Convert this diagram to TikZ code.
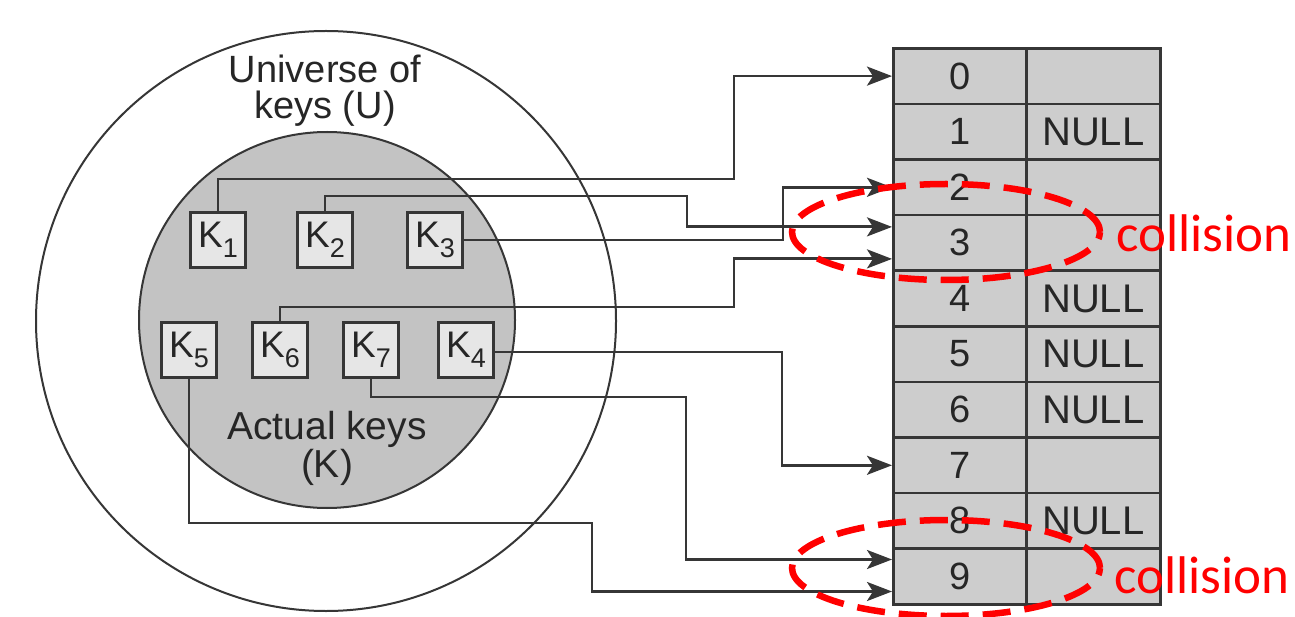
\documentclass[tikz,border=0pt]{standalone}
\usepackage{fontspec}
\setmainfont{Liberation Sans}
\newfontfamily\notefont{Carlito}
\usetikzlibrary{arrows.meta,shapes.geometric,calc}

\definecolor{ink}{HTML}{262626}
\definecolor{wire}{HTML}{363636}
\definecolor{zone}{HTML}{C3C3C3}
\definecolor{cell}{HTML}{CDCDCD}
\definecolor{keyfill}{HTML}{E6E6E6}
\definecolor{alert}{HTML}{FF0000}

% key label: K with a lowered index
\newcommand\keylabel[1]{K\raisebox{-10pt}{\fontsize{27}{27}\selectfont #1}}

\begin{document}
\begin{tikzpicture}[x=1pt,y=-1pt,
  ring/.style={circle, draw=wire, line width=2pt, inner sep=0pt},
  keybox/.style={rectangle, draw=wire, fill=keyfill, line width=2.4pt,
    minimum size=55pt, inner sep=0pt, text=ink,
    font=\fontsize{37}{37}\selectfont},
  slot/.style={rectangle, draw=wire, fill=cell, line width=2.6pt,
    minimum width=133pt, minimum height=55.6pt, inner sep=0pt,
    anchor=north west, text=ink, font=\fontsize{38}{38}\selectfont},
  entry/.style={slot, minimum width=134pt},
  conn/.style={draw=wire, line width=2.8pt,
    -{Stealth[length=25pt,width=19pt,inset=6pt]}},
  label/.style={inner sep=0pt, align=center, text=ink},
  collring/.style={ellipse, draw=alert, line width=6.5pt,
    dash pattern=on 28pt off 14pt, inner sep=0pt},
  colltext/.style={inner sep=0pt, anchor=base west, text=alert,
    font=\notefont\fontsize{53}{53}\selectfont}]

\useasboundingbox (0,0) rectangle (1295,617);
\fill[white] (0,0) rectangle (1295,617);

% universe of keys and the set of actual keys
\node[ring, minimum size=580pt] (universe) at (326,321) {};
\node[ring, fill=zone, minimum size=376pt] (actual) at (327,320) {};

\node[label, anchor=north, font=\fontsize{38}{36}\selectfont]
  (utext) at (325,55) {Universe of\\keys (U)};
\node[label, anchor=north, font=\fontsize{39}{38}\selectfont]
  (ktext) at (327,411) {Actual keys\\(K)};

% hash table: index column and value column
\foreach \i/\v in {0/,1/NULL,2/,3/,4/NULL,5/NULL,6/NULL,7/,8/NULL,9/} {
  \node[slot] (n\i) at (892,{47+55.6*\i}) {\i};
  \node[entry, font=\fontsize{40}{40}\selectfont] (v\i) at (1025,{47+55.6*\i}) {\v};
}

% keys
\node[keybox] (k1) at (218,240) {\keylabel{1}};
\node[keybox] (k2) at (325,240) {\keylabel{2}};
\node[keybox] (k3) at (435,240) {\keylabel{3}};
\node[keybox] (k5) at (189,350) {\keylabel{5}};
\node[keybox] (k6) at (280,350) {\keylabel{6}};
\node[keybox] (k7) at (371,350) {\keylabel{7}};
\node[keybox] (k4) at (466,350) {\keylabel{4}};

% mapping from keys to slots
\draw[conn] (k1.north) |- (734,179) |- (n0.west);
\draw[conn] (k2.north) |- (687,196) |- ([yshift=16pt]n3.west);
\draw[conn] (k3.east) -| ([xshift=-109pt]n2.west) -- (n2.west);
\draw[conn] (k6.north) |- (734,307) |- ([yshift=-16pt]n3.west);
\draw[conn] ([yshift=-2pt]k4.east) -| ([xshift=-110pt]n7.west) -- (n7.west);
\draw[conn] (k7.south) |- (686,397) |- ([yshift=17pt]n9.west);
\draw[conn] (k5.south) |- (592,523) |- ([yshift=-15pt]n9.west);

% collisions
\node[collring, minimum width=308pt, minimum height=96pt] (c1) at (946,232) {};
\node[collring, minimum width=308pt, minimum height=96pt] (c2) at (946,568) {};
\node[colltext] (t1) at (1116,252) {collision};
\node[colltext] (t2) at (1114,593) {collision};
\end{tikzpicture}
\end{document}
